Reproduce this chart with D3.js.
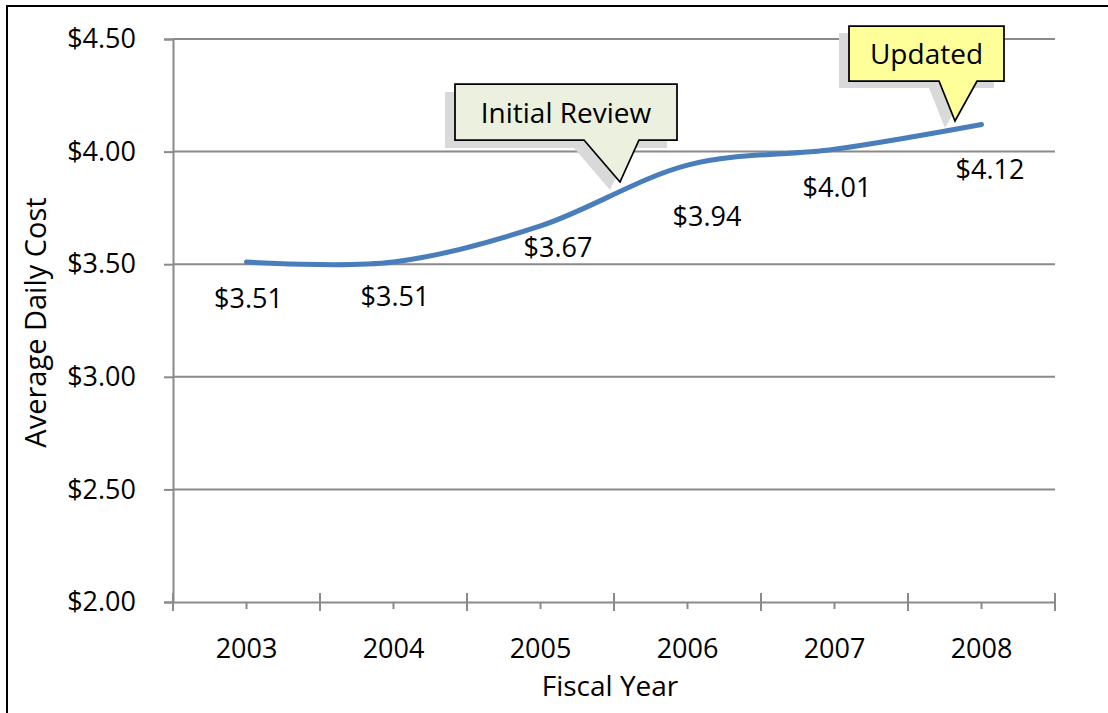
<!DOCTYPE html>
<html>
<head>
<meta charset="utf-8">
<script src="https://cdn.jsdelivr.net/npm/d3@7"></script>
<style>
  html, body { margin: 0; padding: 0; background: #fff; }
  svg { display: block; }
  text { font-family: "Open Sans", Lato, sans-serif; fill: #000; }
</style>
</head>
<body>
<svg id="chart" width="1108" height="713"></svg>
<script>
// ---- data ----
const years = ["2003", "2004", "2005", "2006", "2007", "2008"];
const costs = [3.51, 3.51, 3.67, 3.94, 4.01, 4.12];
const costLabels = ["$3.51", "$3.51", "$3.67", "$3.94", "$4.01", "$4.12"];
const yTicks = [2.00, 2.50, 3.00, 3.50, 4.00, 4.50];
const yTickLabels = ["$2.00", "$2.50", "$3.00", "$3.50", "$4.00", "$4.50"];
const callouts = ["Initial Review", "Updated"];

// ---- layout ----
const W = 1108, H = 713;
const plot = { left: 173, right: 1055, top: 39, bottom: 602 };
const labelDx = [2, 1.5, 17.5, 19.5, 2.5, 8.5];
const labelDy = [37, 34.5, 22, 51, 38, 45];
const calloutBoxes = [
  { x0: 455, x1: 677, y0: 84, y1: 140, pl: 584, pr: 639, tx: 620, ty: 182, fill: "#ebf1de", sdx: -10, sdy: 8 },
  { x0: 849, x1: 1004, y0: 26, y1: 81, pl: 939, pr: 977, tx: 955, ty: 121, fill: "#ffff99", sdx: -10, sdy: 7 }
];
const gridColor = "#8a8a8a";
const fontSize = 27;
const axisTitleSize = 29;
const calloutSize = 28;
const FONT = '"Open Sans", Lato, sans-serif';

const svg = d3.select("#chart");

// outer frame
svg.append("rect")
  .attr("x", 7).attr("y", 6).attr("width", W + 20).attr("height", H + 20)
  .attr("fill", "none").attr("stroke", "#000").attr("stroke-width", 2);

const x = d3.scaleBand().domain(years).range([plot.left, plot.right]).padding(0);
const y = d3.scaleLinear().domain([2, 4.5]).range([plot.bottom, plot.top]);

// gridlines
svg.append("g").selectAll("line").data(yTicks.filter(v => v > 2)).join("line")
  .attr("x1", plot.left).attr("x2", plot.right)
  .attr("y1", d => y(d)).attr("y2", d => y(d))
  .attr("stroke", gridColor).attr("stroke-width", 2);

// y axis
const yAxis = d3.axisLeft(y).tickValues(yTicks).tickSize(9).tickPadding(28)
  .tickFormat((d, i) => yTickLabels[i]);
const gy = svg.append("g").attr("transform", `translate(${plot.left},0)`).call(yAxis);
gy.select(".domain").attr("stroke", gridColor).attr("stroke-width", 2);
gy.selectAll(".tick line").attr("stroke", gridColor).attr("stroke-width", 2);
gy.selectAll(".tick text").attr("font-size", fontSize).attr("font-family", FONT).attr("fill", "#000");

// x axis
const xAxis = d3.axisBottom(x).tickSize(0).tickPadding(37);
const gx = svg.append("g").attr("transform", `translate(0,${plot.bottom})`).call(xAxis);
gx.select(".domain").attr("stroke", gridColor).attr("stroke-width", 2);
gx.selectAll(".tick text").attr("font-size", fontSize).attr("font-family", FONT).attr("fill", "#000");
// major ticks at category boundaries (crossing)
const bounds = years.map(d => x(d)).concat([x(years[years.length - 1]) + x.bandwidth()]);
svg.append("g").selectAll("line").data(bounds).join("line")
  .attr("x1", d => d).attr("x2", d => d)
  .attr("y1", plot.bottom - 9).attr("y2", plot.bottom + 9)
  .attr("stroke", gridColor).attr("stroke-width", 2);
// minor ticks at category centres (outside)
svg.append("g").selectAll("line").data(years).join("line")
  .attr("x1", d => x(d) + x.bandwidth() / 2).attr("x2", d => x(d) + x.bandwidth() / 2)
  .attr("y1", plot.bottom).attr("y2", plot.bottom + 7)
  .attr("stroke", gridColor).attr("stroke-width", 2);

// axis titles
svg.append("text")
  .attr("transform", `translate(36,${(plot.top + plot.bottom) / 2 + 2}) rotate(-90)`)
  .attr("text-anchor", "middle").attr("dy", "0.35em")
  .attr("font-size", axisTitleSize).text("Average Daily Cost");
svg.append("text")
  .attr("x", 610).attr("y", 686).attr("dy", "0.35em")
  .attr("text-anchor", "middle").attr("font-size", axisTitleSize - 1).text("Fiscal Year");

// line
const pts = years.map((yr, i) => [x(yr) + x.bandwidth() / 2, y(costs[i])]);
svg.append("path")
  .attr("d", d3.line().curve(d3.curveCardinal.tension(0))(pts))
  .attr("fill", "none").attr("stroke", "#4a7ebb").attr("stroke-width", 5)
  .attr("stroke-linecap", "round");

// data labels
svg.append("g").selectAll("text").data(years).join("text")
  .attr("x", (d, i) => pts[i][0] + labelDx[i])
  .attr("y", (d, i) => pts[i][1] + labelDy[i])
  .attr("dy", "0.35em").attr("text-anchor", "middle")
  .attr("font-size", fontSize)
  .text((d, i) => costLabels[i]);

// callouts
function calloutPath(b, dx, dy) {
  const p = d3.path();
  p.moveTo(b.x0 + dx, b.y0 + dy);
  p.lineTo(b.x1 + dx, b.y0 + dy);
  p.lineTo(b.x1 + dx, b.y1 + dy);
  p.lineTo(b.pr + dx, b.y1 + dy);
  p.lineTo(b.tx + dx, b.ty + dy);
  p.lineTo(b.pl + dx, b.y1 + dy);
  p.lineTo(b.x0 + dx, b.y1 + dy);
  p.closePath();
  return p.toString();
}
calloutBoxes.forEach((b, i) => {
  svg.append("path").attr("d", calloutPath(b, b.sdx, b.sdy)).attr("fill", "#d9d9d9");
  svg.append("path").attr("d", calloutPath(b, 0, 0))
    .attr("fill", b.fill).attr("stroke", "#000").attr("stroke-width", 1.75)
    .attr("stroke-linejoin", "miter");
  svg.append("text")
    .attr("x", (b.x0 + b.x1) / 2).attr("y", (b.y0 + b.y1) / 2 + 1)
    .attr("dy", "0.35em").attr("text-anchor", "middle")
    .attr("font-size", calloutSize).text(callouts[i]);
});
</script>
</body>
</html>
